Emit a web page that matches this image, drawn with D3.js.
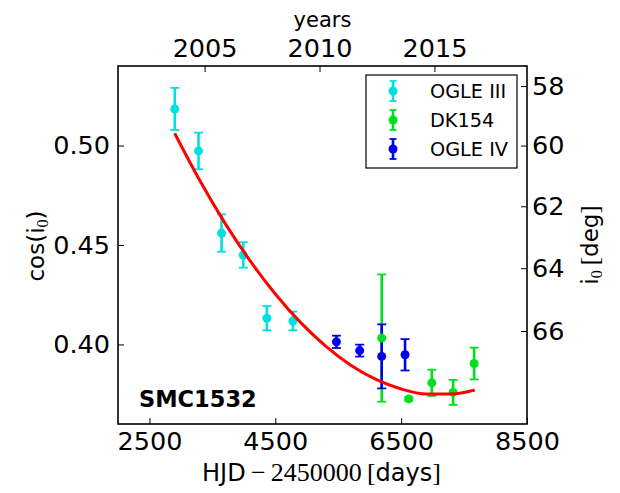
<!DOCTYPE html>
<html><head><meta charset="utf-8">
<script src="https://cdn.jsdelivr.net/npm/d3@7"></script>
<style>body{margin:0;background:#fff} text{font-family:"DejaVu Sans",sans-serif;fill:#000}</style>
</head><body><svg id="c" width="620" height="493"></svg>
<script>
// ---- data ----
const ogle3HJD = [2902, 3280, 3646, 3991, 4366, 4780];
const ogle3Cos = [0.5184, 0.4973, 0.4560, 0.4450, 0.4132, 0.4118];
const ogle3Err = [0.0106, 0.0092, 0.0094, 0.0064, 0.0061, 0.0047];
const dk154HJD = [6191, 6621, 6987, 7326, 7660];
const dk154Cos = [0.4032, 0.3726, 0.3807, 0.3759, 0.3904];
const dk154Err = [0.0320, 0.0008, 0.0066, 0.0063, 0.0080];
const ogle4HJD = [5471, 5841, 6191, 6562];
const ogle4Cos = [0.4013, 0.3969, 0.3940, 0.3948];
const ogle4Err = [0.0031, 0.0030, 0.0161, 0.0079];
const fitHJD = [2900, 3300, 3700, 4100, 4500, 4900, 5300, 5700, 6100, 6500, 6900, 7300, 7670];
const fitCos = [0.5062, 0.4824, 0.4610, 0.4420, 0.4254, 0.4111, 0.3992, 0.3896, 0.3824, 0.3776, 0.3751, 0.3751, 0.3771];
const xTicks = [2500, 4500, 6500, 8500];
const yTicks = [0.40, 0.45, 0.50];
const degTicks = [58, 60, 62, 64, 66];
const yearTicks = [2005, 2010, 2015];
const seriesNames = ["OGLE III", "DK154", "OGLE IV"];
const seriesColors = ["#00e0e0", "#00e020", "#0000f0"];

// ---- layout ----
const L = 118, R = 527, T = 66, B = 424;
const svg = d3.select("#c");
const x = d3.scaleLinear().domain([2000, 8500]).range([L, R]);
const y = d3.scaleLinear().domain([0.36, 0.54]).range([B, T]);
const degToCos = d => Math.cos(d * Math.PI / 180);
const yearToHJD = yr => (yr - 2000) * 365.25 + 1550;

const series = [
  {h: ogle3HJD, c: ogle3Cos, e: ogle3Err},
  {h: dk154HJD, c: dk154Cos, e: dk154Err},
  {h: ogle4HJD, c: ogle4Cos, e: ogle4Err}
].map((s, i) => ({name: seriesNames[i], color: seriesColors[i],
  pts: s.h.map((h, j) => ({h, c: s.c[j], e: s.e[j]}))}));

// ---- axes ----
const fs = 25.5;
function styleAxis(g) {
  g.select(".domain").remove();
  g.selectAll(".tick line").attr("stroke", "#000").attr("stroke-width", 1);
  g.selectAll(".tick text").attr("font-size", fs).attr("font-family", "DejaVu Sans");
}
svg.append("g").attr("transform", `translate(0,${B})`)
  .call(d3.axisBottom(x).tickValues(xTicks).tickFormat(d3.format("d")).tickSize(-6).tickPadding(8))
  .call(styleAxis);
svg.append("g").attr("transform", `translate(${L},0)`)
  .call(d3.axisLeft(y).tickValues(yTicks).tickFormat(d3.format(".2f")).tickSize(-6).tickPadding(8))
  .call(styleAxis);
const yDeg = d3.scaleLinear().domain(y.domain()).range(y.range());
svg.append("g").attr("transform", `translate(${R},0)`)
  .call(d3.axisRight(yDeg).tickValues(degTicks.map(degToCos))
    .tickFormat((d, i) => degTicks[i]).tickSize(-6).tickPadding(5))
  .call(styleAxis);
svg.append("g").attr("transform", `translate(0,${T})`)
  .call(d3.axisTop(x).tickValues(yearTicks.map(yearToHJD))
    .tickFormat((d, i) => yearTicks[i]).tickSize(-6).tickPadding(9))
  .call(styleAxis);

// frame
svg.append("rect").attr("x", L).attr("y", T).attr("width", R - L).attr("height", B - T)
  .attr("fill", "none").attr("stroke", "#000").attr("stroke-width", 1.6);

// ---- error bars ----
const capW = 4.5;
series.forEach(s => {
  const g = svg.append("g").attr("stroke", s.color);
  g.selectAll("line.bar").data(s.pts).join("line")
    .attr("x1", d => x(d.h)).attr("x2", d => x(d.h))
    .attr("y1", d => y(d.c - d.e)).attr("y2", d => y(d.c + d.e))
    .attr("stroke-width", 2.6);
  ["-", "+"].forEach(sign => {
    g.selectAll("line.cap" + (sign === "-" ? "lo" : "hi")).data(s.pts).join("line")
      .attr("x1", d => x(d.h) - capW).attr("x2", d => x(d.h) + capW)
      .attr("y1", d => y(sign === "-" ? d.c - d.e : d.c + d.e))
      .attr("y2", d => y(sign === "-" ? d.c - d.e : d.c + d.e))
      .attr("stroke-width", 1.8);
  });
});
series.forEach(s => {
  svg.append("g").selectAll("circle").data(s.pts).join("circle")
    .attr("cx", d => x(d.h)).attr("cy", d => y(d.c)).attr("r", 4.5)
    .attr("fill", s.color);
});

// ---- fit curve ----
svg.append("path").datum(fitHJD.map((h, i) => [h, fitCos[i]]))
  .attr("d", d3.line().x(d => x(d[0])).y(d => y(d[1])).curve(d3.curveMonotoneX))
  .attr("fill", "none").attr("stroke", "#ff0000").attr("stroke-width", 3);

// ---- legend ----
const lg = svg.append("g");
lg.append("rect").attr("x", 366).attr("y", 75).attr("width", 151).attr("height", 93)
  .attr("fill", "#fff").attr("stroke", "#000").attr("stroke-width", 1.2);
series.forEach((s, i) => {
  const cy = 91 + i * 29;
  const mx = 393;
  lg.append("line").attr("x1", mx).attr("x2", mx).attr("y1", cy - 10).attr("y2", cy + 10)
    .attr("stroke", s.color).attr("stroke-width", 2.6);
  [cy - 10, cy + 10].forEach(yy => lg.append("line").attr("x1", mx - 3.5).attr("x2", mx + 3.5)
    .attr("y1", yy).attr("y2", yy).attr("stroke", s.color).attr("stroke-width", 1.8));
  lg.append("circle").attr("cx", mx).attr("cy", cy).attr("r", 4.5).attr("fill", s.color);
  lg.append("text").attr("x", 430).attr("y", cy + 6.8).attr("font-size", 19.3).text(s.name);
});

// ---- labels ----
svg.append("text").attr("x", (L + R) / 2).attr("y", 27).attr("text-anchor", "middle")
  .attr("font-size", 21).text("years");

const xl = svg.append("text").attr("x", (L + R) / 2 - 1).attr("y", 481).attr("text-anchor", "middle")
  .attr("font-size", 24);
xl.append("tspan").text("HJD");
xl.append("tspan").attr("font-family", "Liberation Serif").attr("font-size", 26).text("\u2009\u2212\u20092450000\u2009[");
xl.append("tspan").text("days");
xl.append("tspan").attr("font-family", "Liberation Serif").attr("font-size", 26).text("]");

const yl = svg.append("text").attr("transform", "translate(44,246) rotate(-90)")
  .attr("text-anchor", "middle").attr("font-size", 23);
yl.append("tspan").text("cos(i");
yl.append("tspan").attr("font-family", "Liberation Serif").attr("font-size", 16).attr("dy", 4).text("0");
yl.append("tspan").attr("dy", -4).text(")");

const rl = svg.append("text").attr("transform", "translate(598,245) rotate(-90)")
  .attr("text-anchor", "middle").attr("font-size", 23);
rl.append("tspan").text("i");
rl.append("tspan").attr("font-family", "Liberation Serif").attr("font-size", 16).attr("dy", 4).text("0");
rl.append("tspan").attr("dy", -4).attr("font-family", "Liberation Serif").attr("font-size", 25).text("\u2009[");
rl.append("tspan").text("deg");
rl.append("tspan").attr("font-family", "Liberation Serif").attr("font-size", 25).text("]");

svg.append("text").attr("x", 139).attr("y", 407).attr("font-size", 22.5).attr("font-weight", "bold")
  .text("SMC1532");
</script></body></html>
